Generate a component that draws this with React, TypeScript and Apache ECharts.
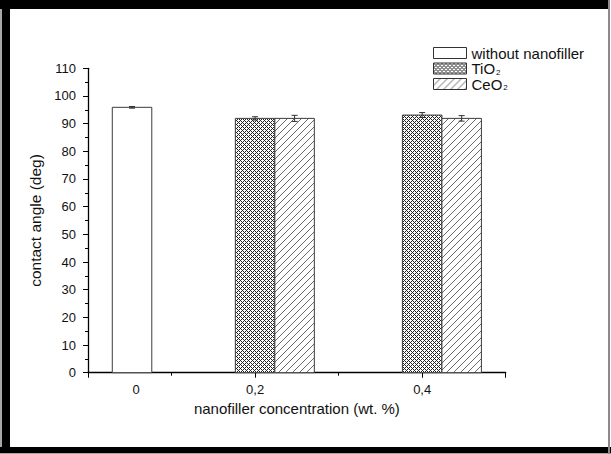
import React, { useEffect, useRef } from 'react';
import * as echarts from 'echarts';

// ---- data ----
const concentrationLabels = ['0', '0,2', '0,4'];
// axis position (wt. %) of the centre slot of each bar group
const groupPositions = [0.1, 0.2, 0.4];
const seriesNames = ['without nanofiller', 'TiO2', 'CeO2'];
const withoutValues = [95.9];
const withoutErrors = [0.3];
const tio2Values = [91.9, 93.1];
const tio2Errors = [0.6, 0.9];
const ceo2Values = [91.9, 91.9];
const ceo2Errors = [1.1, 1.0];
const xTickLabels = ['0,2', '0,4'];

const BAR_W = 39.5;
const CAP = 3;
const FONT = "'Liberation Sans', Arial, sans-serif";

function makeTile(size: number, on: (x: number, y: number) => boolean, color: string): string {
  const c = document.createElement('canvas');
  c.width = size;
  c.height = size;
  const ctx = c.getContext('2d')!;
  ctx.fillStyle = '#ffffff';
  ctx.fillRect(0, 0, size, size);
  ctx.fillStyle = color;
  for (let y = 0; y < size; y++) {
    for (let x = 0; x < size; x++) {
      if (on(x, y)) ctx.fillRect(x, y, 1, 1);
    }
  }
  return c.toDataURL();
}

export default function App() {
  const ref = useRef<HTMLDivElement>(null);

  useEffect(() => {
    if (!ref.current) return;
    const chart = echarts.init(ref.current, undefined, { renderer: 'svg' });

    const crossImg = makeTile(4, (x, y) => (x + y) % 4 === 0 || ((x - y) % 4 + 4) % 4 === 0, '#222222');
    const hatchImg = makeTile(7, (x, y) => (x + y) % 7 === 6, '#6a6a6a');
    const crossFill: any = { image: crossImg, repeat: 'repeat', imageWidth: 4, imageHeight: 4 };
    const hatchFill: any = { image: hatchImg, repeat: 'repeat', imageWidth: 7, imageHeight: 7 };
    const fills = ['#ffffff', crossFill, hatchFill];

    const makeRender = (slot: number, fill: any, labels?: string[]) => (params: any, api: any) => {
      const x = api.value(0);
      const y = api.value(1);
      const err = api.value(2);
      const top = api.coord([x, y]);
      const base = api.coord([x, 0]);
      const cx = top[0] + slot * BAR_W;
      const eT = api.coord([x, y + err])[1];
      const eB = api.coord([x, y - err])[1];
      const es = { stroke: '#333', lineWidth: 1 };
      const children: any[] = [
        {
          type: 'rect',
          shape: { x: cx - BAR_W / 2, y: top[1], width: BAR_W, height: base[1] - top[1] },
          style: { fill, stroke: '#3c3c3c', lineWidth: 1 },
        },
        { type: 'line', shape: { x1: cx, y1: eT, x2: cx, y2: eB }, style: es },
        { type: 'line', shape: { x1: cx - CAP, y1: eT, x2: cx + CAP, y2: eT }, style: es },
        { type: 'line', shape: { x1: cx - CAP, y1: eB, x2: cx + CAP, y2: eB }, style: es },
      ];
      if (labels) {
        children.push({
          type: 'text',
          x: cx + 4,
          y: base[1] + 10,
          style: {
            text: labels[params.dataIndex],
            fill: '#111',
            font: `13px ${FONT}`,
            textAlign: 'center',
            textVerticalAlign: 'top',
          },
        });
      }
      return { type: 'group', children };
    };

    const withoutData = withoutValues.map((v, i) => [groupPositions[i], v, withoutErrors[i]]);
    const tio2Data = tio2Values.map((v, i) => [groupPositions[i + 1], v, tio2Errors[i]]);
    const ceo2Data = ceo2Values.map((v, i) => [groupPositions[i + 1], v, ceo2Errors[i]]);

    const axisLine = { show: true, lineStyle: { color: '#000', width: 1.3 } };

    chart.setOption({
      animation: false,
      backgroundColor: 'transparent',
      textStyle: { fontFamily: FONT },
      grid: { left: 88, right: 105.3, top: 68.3, bottom: 81.3 },
      legend: {
        orient: 'vertical',
        left: 428,
        top: 40.5,
        itemWidth: 33,
        itemHeight: 11,
        itemGap: 0.5,
        icon: 'rect',
        data: seriesNames.map((n, i) => ({
          name: n,
          itemStyle: { color: fills[i], borderColor: '#333', borderWidth: 1 },
        })),
        formatter: (n: string) => n.replace(/O2$/, 'O{s|2}'),
        textStyle: {
          fontFamily: FONT,
          fontSize: 15,
          lineHeight: 15,
          color: '#111',
          rich: { s: { fontSize: 8, lineHeight: 8, fontFamily: FONT, color: '#111', padding: [7, 0, 0, 1] } },
        },
      },
      xAxis: [
        {
          type: 'value',
          min: 0,
          max: 0.5,
          interval: 0.1,
          name: 'nanofiller concentration (wt. %)',
          nameLocation: 'middle',
          nameGap: 26.5,
          nameTextStyle: { fontFamily: FONT, fontSize: 15, color: '#111' },
          axisLine,
          axisTick: { show: true, length: 3, lineStyle: { color: '#000' } },
          splitLine: { show: false },
          axisLabel: {
            margin: 10,
            fontFamily: FONT,
            fontSize: 13,
            color: '#111',
            formatter: (v: number) => {
              if (Math.abs(v - 0.2) < 1e-6) return xTickLabels[0];
              if (Math.abs(v - 0.4) < 1e-6) return xTickLabels[1];
              return '';
            },
          },
        },
        {
          type: 'value',
          min: 0,
          max: 0.5,
          interval: 0.2,
          position: 'bottom',
          axisLine: { show: false },
          axisTick: { show: true, length: 5, lineStyle: { color: '#000' } },
          axisLabel: { show: false },
          splitLine: { show: false },
        },
      ],
      yAxis: {
        type: 'value',
        min: 0,
        max: 110,
        interval: 10,
        name: 'contact angle (deg)',
        nameLocation: 'middle',
        nameGap: 42,
        nameTextStyle: { fontFamily: FONT, fontSize: 15.5, color: '#111' },
        axisLine,
        axisTick: { show: true, length: 5, lineStyle: { color: '#000' } },
        minorTick: { show: true, splitNumber: 2, length: 3, lineStyle: { color: '#000' } },
        splitLine: { show: false },
        axisLabel: { margin: 12, fontFamily: FONT, fontSize: 13, color: '#111' },
      },
      series: [
        {
          name: seriesNames[0],
          type: 'custom',
          itemStyle: { color: fills[0], borderColor: '#333' },
          renderItem: makeRender(-1, fills[0], [concentrationLabels[0]]),
          encode: { x: 0, y: 1 },
          data: withoutData,
        },
        {
          name: seriesNames[1],
          type: 'custom',
          itemStyle: { color: crossFill, borderColor: '#333' },
          renderItem: makeRender(0, crossFill),
          encode: { x: 0, y: 1 },
          data: tio2Data,
        },
        {
          name: seriesNames[2],
          type: 'custom',
          itemStyle: { color: hatchFill, borderColor: '#333' },
          renderItem: makeRender(1, hatchFill),
          encode: { x: 0, y: 1 },
          data: ceo2Data,
        },
      ],
    });

    return () => chart.dispose();
  }, []);

  const abs = (s: React.CSSProperties): React.CSSProperties => ({ position: 'absolute', ...s });

  return (
    <div style={abs({ left: 0, top: 0, width: 611, height: 454, background: '#fff', overflow: 'hidden' })}>
      <div ref={ref} style={abs({ left: 0, top: 0, width: 611, height: 454 })} />
      <div style={abs({ left: 0, top: 0, width: 2, height: 454, background: '#a8a8a8' })} />
      <div style={abs({ left: 2, top: 0, width: 8, height: 454, background: '#000' })} />
      <div style={abs({ left: 0, top: 0, width: 609, height: 9, background: '#000' })} />
      <div style={abs({ left: 0, top: 447, width: 611, height: 6, background: '#000' })} />
      <div style={abs({ left: 0, top: 453, width: 611, height: 1, background: '#a8a8a8' })} />
      <div style={abs({ left: 608, top: 0, width: 2, height: 454, background: '#8a8a8a' })} />
    </div>
  );
}
